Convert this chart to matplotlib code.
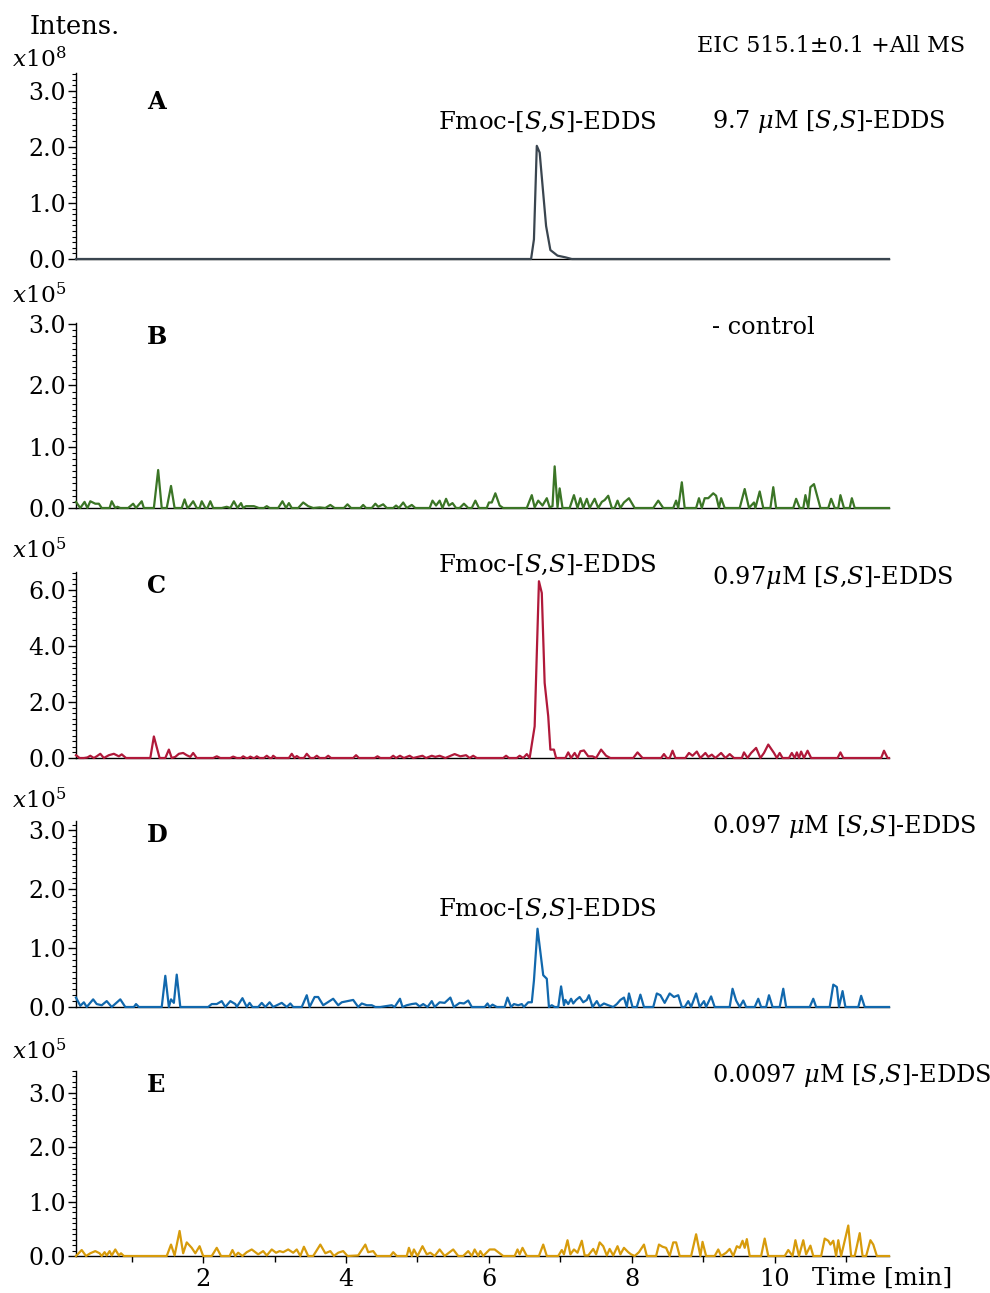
import matplotlib
matplotlib.use("Agg")
import matplotlib.pyplot as plt
from matplotlib.ticker import MultipleLocator, FormatStrFormatter

plt.rcParams["font.family"] = ["DejaVu Serif"]
plt.rcParams["mathtext.fontset"] = "dejavuserif"

# retention time [min] and intensity (in units of the panel's x10^n)
t_a = [0.22, 6.59, 6.63, 6.67, 6.71, 6.80, 6.86, 6.96, 7.07, 7.16, 11.6]
i_a = [0.0, 0.0, 0.35, 2.02, 1.90, 0.59, 0.16, 0.06, 0.03, 0.0, 0.0]

t_b = [0.22, 0.28, 0.34, 0.38, 0.42, 0.49, 0.54, 0.58, 0.69, 0.72, 0.77, 0.80, 0.84,
       0.95, 1.02, 1.06, 1.14, 1.17, 1.31, 1.37, 1.42, 1.49, 1.55, 1.60, 1.70, 1.74,
       1.78, 1.81, 1.86, 1.91, 1.95, 1.98, 2.03, 2.06, 2.10, 2.14, 2.26, 2.33, 2.38,
       2.43, 2.48, 2.53, 2.56, 2.60, 2.71, 2.78, 2.85, 2.89, 2.93, 3.05, 3.11, 3.16,
       3.20, 3.24, 3.33, 3.40, 3.47, 3.54, 3.63, 3.71, 3.78, 3.84, 3.97, 4.02, 4.07,
       4.20, 4.24, 4.28, 4.36, 4.41, 4.45, 4.52, 4.57, 4.66, 4.70, 4.74,
       4.80, 4.85, 4.92, 4.97, 5.17, 5.21, 5.26, 5.31, 5.35, 5.40, 5.44, 5.49, 5.54,
       5.59, 5.65, 5.71, 5.76, 5.81, 5.86, 5.97, 6.00, 6.04, 6.09, 6.15, 6.20, 6.53,
       6.60, 6.64, 6.69, 6.75, 6.81, 6.85, 6.89, 6.92, 6.96, 6.99, 7.03, 7.13, 7.19,
       7.24, 7.28, 7.32, 7.37, 7.41, 7.48, 7.53, 7.58, 7.62, 7.67, 7.72, 7.76, 7.80,
       7.84, 7.89, 7.96, 8.04, 8.30, 8.37, 8.44, 8.58, 8.62, 8.65, 8.70, 8.74, 8.90,
       8.94, 8.98, 9.02, 9.07, 9.14, 9.18, 9.22, 9.25, 9.30, 9.51, 9.58, 9.64, 9.71,
       9.73, 9.79, 9.84, 9.94, 9.98, 10.02, 10.26, 10.30, 10.35, 10.40, 10.43, 10.47,
       10.50, 10.55, 10.64, 10.75, 10.79, 10.84, 10.89, 10.92, 10.97, 11.05, 11.08,
       11.12, 11.6]
i_b = [0.10, 0.0, 0.10, 0.0, 0.11, 0.07, 0.07, 0.0, 0.0, 0.11, 0.0, 0.02, 0.0,
       0.0, 0.07, 0.0, 0.11, 0.0, 0.0, 0.62, 0.0, 0.0, 0.36, 0.0, 0.0, 0.14,
       0.0, 0.03, 0.11, 0.0, 0.0, 0.11, 0.0, 0.0, 0.11, 0.0, 0.0, 0.02, 0.0,
       0.11, 0.0, 0.08, 0.0, 0.03, 0.03, 0.0, 0.0, 0.03, 0.0, 0.0, 0.11, 0.0,
       0.08, 0.0, 0.0, 0.09, 0.03, 0.0, 0.01, 0.0, 0.05, 0.0, 0.0, 0.06, 0.0,
       0.0, 0.05, 0.0, 0.0, 0.07, 0.02, 0.06, 0.0, 0.0, 0.04, 0.0,
       0.09, 0.0, 0.05, 0.0, 0.0, 0.12, 0.04, 0.12, 0.0, 0.15, 0.04, 0.08, 0.0,
       0.0, 0.07, 0.0, 0.0, 0.12, 0.0, 0.0, 0.09, 0.09, 0.24, 0.04, 0.0, 0.0,
       0.21, 0.01, 0.12, 0.04, 0.16, 0.01, 0.03, 0.68, 0.01, 0.32, 0.0, 0.0, 0.21,
       0.0, 0.16, 0.0, 0.15, 0.0, 0.15, 0.0, 0.10, 0.13, 0.20, 0.0, 0.0, 0.12,
       0.0, 0.09, 0.16, 0.0, 0.0, 0.12, 0.0, 0.0, 0.12, 0.0, 0.42, 0.0, 0.0,
       0.16, 0.0, 0.16, 0.16, 0.24, 0.20, 0.0, 0.16, 0.0, 0.0, 0.31, 0.0, 0.09,
       0.0, 0.27, 0.0, 0.0, 0.34, 0.0, 0.0, 0.15, 0.0, 0.0, 0.21, 0.0,
       0.34, 0.39, 0.0, 0.0, 0.15, 0.0, 0.0, 0.21, 0.0, 0.0, 0.16,
       0.0, 0.0]

t_c = [0.22, 0.27, 0.33, 0.38, 0.42, 0.47, 0.51, 0.56, 0.61, 0.68, 0.75, 0.82, 0.86,
       0.92, 1.26, 1.31, 1.39, 1.47, 1.52, 1.56, 1.61, 1.66, 1.72, 1.77, 1.82, 1.86,
       1.91, 2.14, 2.19, 2.24, 2.38, 2.42, 2.47, 2.53, 2.56, 2.60, 2.63, 2.66, 2.70,
       2.72, 2.75, 2.79, 2.85, 2.89, 2.93, 2.96, 2.98, 3.02, 3.20, 3.24, 3.28, 3.31,
       3.35, 3.41, 3.45, 3.50, 3.55, 3.59, 3.63, 3.71, 3.75, 3.79, 4.10, 4.14, 4.18,
       4.40, 4.44, 4.48, 4.62, 4.66, 4.70,
       4.755, 4.81, 4.89, 4.94, 5.07, 5.12, 5.20, 5.25, 5.31, 5.39, 5.52, 5.60, 5.68,
       5.73, 5.78, 5.83, 6.20, 6.24, 6.28, 6.39, 6.43, 6.48, 6.53, 6.57, 6.64, 6.70,
       6.74, 6.78, 6.83, 6.86, 6.91, 6.94, 7.07, 7.11, 7.15, 7.20, 7.24, 7.28, 7.33,
       7.39, 7.45, 7.50, 7.57, 7.64, 7.70, 8.02, 8.08, 8.15, 8.41, 8.45, 8.49, 8.53,
       8.57, 8.61, 8.75, 8.80, 8.85, 8.91, 8.96, 9.03, 9.07, 9.12, 9.17, 9.25, 9.31,
       9.37, 9.43, 9.54, 9.57, 9.62, 9.67, 9.74, 9.80, 9.85, 9.91, 9.99, 10.03, 10.07,
       10.11, 10.20, 10.24, 10.28, 10.31, 10.34, 10.37, 10.41, 10.46, 10.51, 10.88,
       10.92, 10.96, 11.49, 11.53, 11.58, 11.6]
i_c = [0.10, 0.0, 0.0, 0.02, 0.08, 0.0, 0.06, 0.15, 0.0, 0.10, 0.15, 0.06, 0.13,
       0.0, 0.0, 0.77, 0.0, 0.0, 0.30, 0.0, 0.04, 0.15, 0.18, 0.10, 0.04, 0.18,
       0.0, 0.0, 0.06, 0.0, 0.0, 0.05, 0.0, 0.0, 0.06, 0.0, 0.0, 0.05, 0.0,
       0.0, 0.06, 0.0, 0.0, 0.08, 0.0, 0.0, 0.08, 0.0, 0.0, 0.15, 0.0, 0.07,
       0.0, 0.0, 0.15, 0.0, 0.0, 0.08, 0.0, 0.0, 0.08, 0.0, 0.0, 0.10, 0.0,
       0.0, 0.06, 0.0, 0.0, 0.08, 0.0,
       0.08, 0.0, 0.08, 0.0, 0.08, 0.0, 0.08, 0.04, 0.08, 0.0, 0.14, 0.06, 0.10,
       0.0, 0.08, 0.0, 0.0, 0.08, 0.0, 0.0, 0.08, 0.0, 0.14, 0.0, 1.13, 6.31,
       5.89, 2.68, 1.49, 0.30, 0.30, 0.0, 0.0, 0.20, 0.0, 0.18, 0.0, 0.24, 0.27,
       0.06, 0.06, 0.0, 0.30, 0.08, 0.0, 0.0, 0.20, 0.0, 0.0, 0.14, 0.0, 0.0,
       0.26, 0.0, 0.0, 0.18, 0.08, 0.23, 0.0, 0.18, 0.04, 0.12, 0.0, 0.18, 0.0,
       0.14, 0.0, 0.0, 0.20, 0.0, 0.18, 0.36, 0.0, 0.18, 0.48, 0.18, 0.0, 0.18,
       0.0, 0.0, 0.18, 0.0, 0.20, 0.0, 0.23, 0.0, 0.26, 0.0, 0.0,
       0.20, 0.0, 0.0, 0.26, 0.0, 0.0]

t_d = [0.22, 0.28, 0.33, 0.37, 0.46, 0.51, 0.58, 0.65, 0.72, 0.84, 0.91, 1.03, 1.06,
       1.10, 1.42, 1.47, 1.52, 1.55, 1.59, 1.63, 1.68, 2.07, 2.12, 2.19, 2.26, 2.31,
       2.38, 2.45, 2.47, 2.55, 2.61, 2.65, 2.69, 2.77, 2.82, 2.87, 2.93, 2.98, 3.10,
       3.17, 3.22, 3.26, 3.38, 3.45, 3.49, 3.56, 3.61, 3.68, 3.73, 3.82, 3.89, 3.94,
       4.10, 4.17, 4.22, 4.29, 4.36, 4.41, 4.48, 4.64, 4.68,
       4.755, 4.79, 4.85, 4.92, 4.98, 5.03, 5.08, 5.14, 5.20, 5.24, 5.31, 5.38, 5.46,
       5.51, 5.59, 5.65, 5.71, 5.76, 5.94, 5.98, 6.01, 6.05, 6.11, 6.22, 6.26, 6.31,
       6.35, 6.41, 6.46, 6.49, 6.55, 6.60, 6.63, 6.68, 6.72, 6.76, 6.81, 6.84, 6.88,
       6.92, 6.97, 7.01, 7.05, 7.07, 7.11, 7.15, 7.18, 7.22, 7.27, 7.32, 7.37, 7.40,
       7.45, 7.51, 7.55, 7.61, 7.67, 7.74, 7.79, 7.84, 7.89, 7.93, 7.96, 8.01, 8.07,
       8.12, 8.17, 8.30, 8.35, 8.40, 8.46, 8.53, 8.59, 8.65, 8.70, 8.74, 8.79, 8.83,
       8.90, 8.95, 9.01, 9.04, 9.11, 9.16, 9.37, 9.41, 9.46, 9.51, 9.56, 9.60, 9.72,
       9.77, 9.81, 9.88, 9.92, 9.97, 10.07, 10.12, 10.16, 10.49, 10.54, 10.58, 10.77,
       10.82, 10.87, 10.90, 10.95, 10.99, 11.17, 11.21, 11.26, 11.6]
i_d = [0.16, 0.02, 0.08, 0.0, 0.13, 0.05, 0.03, 0.10, 0.0, 0.13, 0.0, 0.0, 0.05,
       0.0, 0.0, 0.53, 0.0, 0.13, 0.07, 0.55, 0.0, 0.0, 0.05, 0.05, 0.10, 0.0,
       0.10, 0.05, 0.0, 0.15, 0.0, 0.07, 0.0, 0.0, 0.07, 0.0, 0.08, 0.0, 0.07,
       0.0, 0.06, 0.0, 0.0, 0.20, 0.0, 0.17, 0.17, 0.03, 0.07, 0.14, 0.03, 0.08,
       0.12, 0.0, 0.06, 0.03, 0.03, 0.0, 0.0, 0.03, 0.0,
       0.14, 0.0, 0.03, 0.05, 0.06, 0.01, 0.05, 0.0, 0.10, 0.0, 0.08, 0.07, 0.16,
       0.0, 0.07, 0.06, 0.11, 0.0, 0.0, 0.06, 0.0, 0.04, 0.0, 0.0, 0.16, 0.0,
       0.05, 0.03, 0.05, 0.0, 0.08, 0.08, 0.45, 1.33, 0.93, 0.54, 0.48, 0.0, 0.03,
       0.0, 0.0, 0.35, 0.03, 0.12, 0.05, 0.14, 0.06, 0.12, 0.17, 0.08, 0.12, 0.20,
       0.0, 0.10, 0.01, 0.06, 0.03, 0.0, 0.05, 0.12, 0.16, 0.0, 0.23, 0.0, 0.0,
       0.21, 0.0, 0.0, 0.23, 0.20, 0.07, 0.23, 0.17, 0.20, 0.0, 0.0, 0.10, 0.0,
       0.23, 0.0, 0.10, 0.0, 0.18, 0.0, 0.0, 0.31, 0.11, 0.0, 0.11, 0.0, 0.0,
       0.14, 0.0, 0.0, 0.20, 0.0, 0.0, 0.31, 0.0, 0.0, 0.14, 0.0, 0.0,
       0.38, 0.34, 0.0, 0.27, 0.0, 0.0, 0.19, 0.0, 0.0]

t_e = [0.22, 0.30, 0.36, 0.42, 0.49, 0.55, 0.58, 0.62, 0.65, 0.69, 0.72, 0.77, 0.82,
       0.85, 0.89, 1.49, 1.55, 1.60, 1.67, 1.72, 1.77, 1.84, 1.89, 1.95, 2.00, 2.12,
       2.19, 2.25, 2.37, 2.41, 2.45, 2.49, 2.55, 2.61, 2.68, 2.77, 2.84, 2.89, 2.96,
       3.02, 3.07, 3.12, 3.19, 3.26, 3.31, 3.36, 3.41, 3.47, 3.54, 3.64, 3.71, 3.78,
       3.83, 3.89, 3.96, 4.02, 4.17, 4.22, 4.27, 4.31, 4.38, 4.43, 4.62, 4.66, 4.71,
       4.85, 4.88, 4.92, 4.95, 5.00, 5.07, 5.13, 5.18, 5.24, 5.31, 5.38, 5.50, 5.57,
       5.64, 5.71, 5.76, 5.80, 5.85, 5.88, 5.92, 6.01, 6.08, 6.15,
       6.20, 6.36, 6.40, 6.43, 6.47, 6.53, 6.70, 6.76, 6.81, 6.97, 7.02, 7.05, 7.10,
       7.14, 7.19, 7.24, 7.30, 7.34, 7.39, 7.46, 7.50, 7.55, 7.60, 7.65, 7.69, 7.74,
       7.80, 7.84, 7.89, 7.95, 7.99, 8.04, 8.10, 8.17, 8.21, 8.34, 8.38, 8.43, 8.48,
       8.53, 8.58, 8.62, 8.67, 8.83, 8.90, 8.96, 8.99, 9.04, 9.16, 9.21, 9.25, 9.32,
       9.37, 9.42, 9.47, 9.51, 9.55, 9.58, 9.61, 9.65, 9.81, 9.86, 9.91, 10.14, 10.19,
       10.25, 10.29, 10.34, 10.40, 10.44, 10.50, 10.54, 10.65, 10.70, 10.75, 10.78,
       10.82, 10.86, 10.89, 10.93, 11.03, 11.07, 11.12, 11.19, 11.23, 11.28, 11.34,
       11.38, 11.43, 11.6]
i_e = [0.0, 0.11, 0.0, 0.05, 0.09, 0.05, 0.0, 0.07, 0.01, 0.09, 0.01, 0.12, 0.01,
       0.05, 0.0, 0.0, 0.21, 0.01, 0.46, 0.05, 0.25, 0.15, 0.05, 0.18, 0.0, 0.0,
       0.15, 0.0, 0.0, 0.11, 0.0, 0.06, 0.0, 0.07, 0.12, 0.03, 0.09, 0.01, 0.12,
       0.06, 0.09, 0.07, 0.12, 0.06, 0.12, 0.0, 0.17, 0.0, 0.0, 0.21, 0.05, 0.09,
       0.0, 0.06, 0.09, 0.0, 0.01, 0.11, 0.21, 0.07, 0.09, 0.0, 0.0, 0.07, 0.0,
       0.0, 0.15, 0.0, 0.12, 0.0, 0.18, 0.03, 0.06, 0.0, 0.12, 0.0, 0.12, 0.0,
       0.0, 0.09, 0.0, 0.12, 0.0, 0.09, 0.0, 0.12, 0.12, 0.05,
       0.0, 0.0, 0.12, 0.03, 0.15, 0.0, 0.0, 0.21, 0.0, 0.0, 0.11, 0.03, 0.29,
       0.03, 0.12, 0.06, 0.28, 0.01, 0.01, 0.13, 0.03, 0.25, 0.18, 0.01, 0.13, 0.01,
       0.18, 0.03, 0.15, 0.07, 0.03, 0.0, 0.07, 0.21, 0.0, 0.0, 0.21, 0.17, 0.15,
       0.0, 0.25, 0.25, 0.0, 0.0, 0.40, 0.0, 0.26, 0.0, 0.0, 0.12, 0.0, 0.06,
       0.13, 0.0, 0.18, 0.15, 0.28, 0.15, 0.31, 0.0, 0.0, 0.32, 0.0, 0.0, 0.11,
       0.0, 0.29, 0.0, 0.29, 0.03, 0.19, 0.0, 0.0, 0.32, 0.28, 0.21,
       0.28, 0.0, 0.29, 0.0, 0.56, 0.0, 0.0, 0.42, 0.0, 0.0, 0.29,
       0.21, 0.0, 0.0]

panels = [
    dict(t=t_a, y=i_a, color="#3a454f", ylim=3.32, step=1.0, minor=0.1, exp="8",
         exp_y=1.07, letter="A", letter_y=0.844,
         right="9.7 $\\mu$M [$S$,$S$]-EDDS", right_y=0.737, fmoc_y=0.737),
    dict(t=t_b, y=i_b, color="#3b7526", ylim=3.02, step=1.0, minor=0.1, exp="5",
         exp_y=1.15, letter="B", letter_y=0.924,
         right="- control", right_y=0.973, fmoc_y=None),
    dict(t=t_c, y=i_c, color="#b0193a", ylim=6.64, step=2.0, minor=0.2, exp="5",
         exp_y=1.113, letter="C", letter_y=0.925,
         right="0.97$\\mu$M [$S$,$S$]-EDDS", right_y=0.968, fmoc_y=1.04),
    dict(t=t_d, y=i_d, color="#1168ad", ylim=3.16, step=1.0, minor=0.1, exp="5",
         exp_y=1.108, letter="D", letter_y=0.925,
         right="0.097 $\\mu$M [$S$,$S$]-EDDS", right_y=0.968, fmoc_y=0.527),
    dict(t=t_e, y=i_e, color="#d79b0b", ylim=3.40, step=1.0, minor=0.1, exp="5",
         exp_y=1.103, letter="E", letter_y=0.924,
         right="0.0097 $\\mu$M [$S$,$S$]-EDDS", right_y=0.973, fmoc_y=None),
]

# axes boxes in pixels (top, bottom) of a 990 x 1293 figure
boxes = [(73, 259), (323, 508), (572, 758), (821, 1007), (1071, 1256)]

W, H = 990, 1293
fig = plt.figure(figsize=(W / 100, H / 100), dpi=100)
fs = 17.3

for k, (p, (top, bot)) in enumerate(zip(panels, boxes)):
    ax = fig.add_axes([76 / W, 1 - bot / H, 813 / W, (bot - top) / H])
    ax.plot(p["t"], p["y"], color=p["color"], lw=1.6, clip_on=False, zorder=3)
    ax.set_xlim(0.22, 11.6)
    ax.set_ylim(0, p["ylim"])
    for s in ("top", "right"):
        ax.spines[s].set_visible(False)
    ax.spines["left"].set_linewidth(1.0)
    ax.spines["bottom"].set_linewidth(1.0)
    ax.yaxis.set_major_locator(MultipleLocator(p["step"]))
    ax.yaxis.set_minor_locator(MultipleLocator(p["minor"]))
    ax.yaxis.set_major_formatter(FormatStrFormatter("%.1f"))
    ax.tick_params(axis="y", which="major", length=6, width=1.0, labelsize=fs - 0.3, pad=1)
    ax.tick_params(axis="y", which="minor", length=3, width=0.8)
    if k < 4:
        ax.tick_params(axis="x", which="both", bottom=False, labelbottom=False)
    else:
        ax.xaxis.set_major_locator(MultipleLocator(2))
        ax.xaxis.set_minor_locator(MultipleLocator(1))
        ax.tick_params(axis="x", which="major", length=5, width=1.0, labelsize=fs, pad=4)
        ax.tick_params(axis="x", which="minor", length=4, width=1.0)

    ax.text(-0.079, p["exp_y"], "$x$10$^{%s}$" % p["exp"], transform=ax.transAxes,
            ha="left", va="center", fontsize=fs - 0.5)
    ax.text(0.087, p["letter_y"], p["letter"], transform=ax.transAxes, ha="left",
            va="center", fontsize=fs, fontweight="bold")
    ax.text(0.782, p["right_y"], p["right"], transform=ax.transAxes, ha="left",
            va="center", fontsize=fs)
    if p["fmoc_y"] is not None:
        ax.text(0.445, p["fmoc_y"], "Fmoc-[$S$,$S$]-EDDS", transform=ax.transAxes,
                ha="left", va="center", fontsize=fs + 0.3)

fig.text(30 / W, 1 - 27 / H, "Intens.", ha="left", va="center", fontsize=18.5)
fig.text(965 / W, 1 - 46 / H, "EIC 515.1±0.1 +All MS", ha="right", va="center",
         fontsize=16)
fig.text(812 / W, 1 - 1278 / H, "Time [min]", ha="left", va="center", fontsize=18.2)

fig.savefig("out.png", dpi=100)
